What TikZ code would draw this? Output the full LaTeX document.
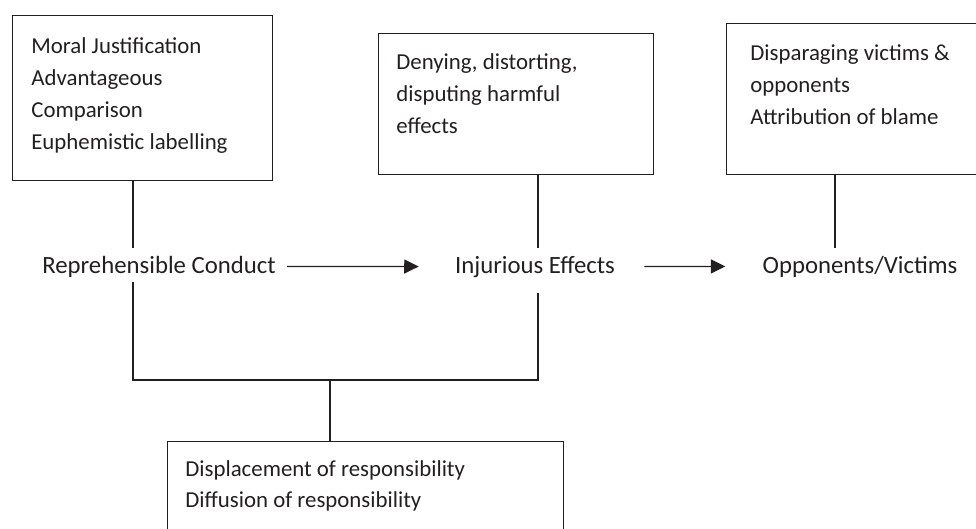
\documentclass[tikz,border=0pt]{standalone}
\usepackage{fontspec}
\setmainfont{Carlito}
\usepackage{xcolor}
\usepackage{tikz}
\usetikzlibrary{positioning, arrows.meta}
\definecolor{ink}{HTML}{231F20}

\begin{document}
\begin{tikzpicture}[
        x=0.02cm, y=-0.02cm,
        box/.style={rectangle, draw=ink, line width=0.7pt, anchor=north west, inner sep=0pt},
        boxtext/.style={anchor=base west, align=left, inner sep=0pt, text=ink, font=\fontsize{13}{18.1}\selectfont},
        term/.style={anchor=base, inner sep=0pt, text=ink, font=\fontsize{14.1}{18.1}\selectfont},
        link/.style={draw=ink, line width=0.7pt},
        flow/.style={draw=ink, line width=0.75pt, -{Triangle[length=0.29cm, width=0.28cm]}}
    ]
    \clip (0,0) rectangle (976,528);

    \node[box, minimum width=5.2cm, minimum height=3.3cm] (just) at (12,15) {};
    \node[box, minimum width=5.5cm, minimum height=2.82cm] (deny) at (378,33) {};
    \node[box, minimum width=5.48cm, minimum height=3.02cm] (blame) at (726,23) {};
    \node[box, minimum width=7.92cm, minimum height=2.38cm] (resp) at (167,441) {};

    % base anchor of a multi-line node sits on its last line
    \node[boxtext] (justtext) at (31,149) {Moral Justification\\Advantageous\\Comparison\\Euphemistic labelling};
    \node[boxtext] (denytext) at (396,133) {Denying, distorting,\\disputing harmful\\effects};
    \node[boxtext] (blametext) at (750,124) {Disparaging victims \&\\opponents\\Attribution of blame};
    \node[boxtext, font=\fontsize{13}{17.2}\selectfont] (resptext) at (185,507) {Displacement of responsibility\\Diffusion of responsibility};

    \node[term] (conduct) at (159,273) {Reprehensible Conduct};
    \node[term] (effects) at (535,273) {Injurious Effects};
    \node[term] (victims) at (860,273) {Opponents/Victims};

    \coordinate (conductup) at (133,248);
    \coordinate (conductdown) at (133,282);
    \coordinate (effectsup) at (538,248);
    \coordinate (effectsdown) at (538,293);
    \coordinate (victimsup) at (835,248);
    \coordinate (joint) at (330,380);

    \draw[link] (just.south -| conductup) -- (conductup);
    \draw[link] (deny.south -| effectsup) -- (effectsup);
    \draw[link] (blame.south -| victimsup) -- (victimsup);
    \draw[link] (conductdown) |- (joint) -| (effectsdown);
    \draw[link] (joint) -- (resp.north -| joint);

    \draw[flow, shorten <=0.22cm, shorten >=0.72cm] (conduct.east) -- (effects.west);
    \draw[flow, shorten <=0.58cm, shorten >=0.74cm] (effects.east) -- (victims.west);
\end{tikzpicture}
\end{document}
